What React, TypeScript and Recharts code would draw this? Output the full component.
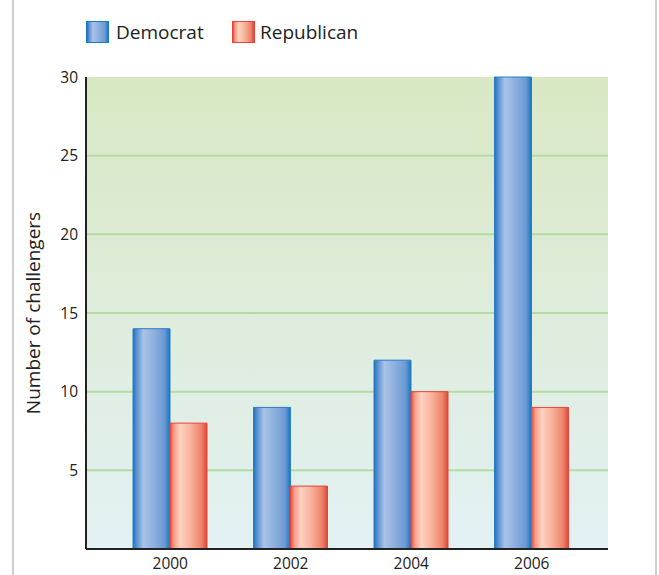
import React from 'react';
import { BarChart, Bar, XAxis, YAxis, CartesianGrid, Legend } from 'recharts';

const years = ['2000', '2002', '2004', '2006'];
const democrat = [14, 9, 12, 30];
const republican = [8, 4, 10, 9];
const yTicks = [5, 10, 15, 20, 25, 30];
const gridValues = [5, 10, 15, 20, 25];
const seriesNames = ['Democrat', 'Republican'];

const data = years.map((y, i) => ({ year: y, Democrat: democrat[i], Republican: republican[i] }));

const FONT = '"Open Sans", "Noto Sans", sans-serif';

const blueCss = 'linear-gradient(to right, #1b74c0 0%, #5a90d0 10%, #a9c3e8 28%, #8eb0de 55%, #6b9ad3 85%, #1576c3 100%)';
const redCss = 'linear-gradient(to right, #e54a3c 0%, #f49a85 10%, #fdd3c0 28%, #f8b29c 55%, #ef836a 85%, #d74a37 100%)';

const renderLegend = () => (
  <div style={{ display: 'flex', alignItems: 'center', fontFamily: FONT, fontSize: 19, color: '#222' }}>
    <div style={{ width: 21, height: 20, background: blueCss, border: '1px solid #1e78c4' }} />
    <span style={{ marginLeft: 7, width: 116 }}>{seriesNames[0]}</span>
    <div style={{ width: 21, height: 20, background: redCss, border: '1px solid #e8433d' }} />
    <span style={{ marginLeft: 5 }}>{seriesNames[1]}</span>
  </div>
);

const YLabel = (props: any) => {
  const vb = props.viewBox || { x: 0, y: 77, width: 86, height: 472 };
  const cx = vb.x + 33;
  const cy = vb.y + vb.height / 2;
  return (
    <text
      x={cx}
      y={cy}
      transform={`rotate(-90 ${cx} ${cy})`}
      textAnchor="middle"
      dominantBaseline="central"
      fontFamily={FONT}
      fontSize={19}
      fill="#222"
    >
      Number of challengers
    </text>
  );
};

const tickStyle = { fill: '#222', fontSize: 15.5, fontFamily: FONT };

export default function App() {
  return (
    <div style={{ position: 'absolute', left: 0, top: 0, width: 659, height: 575, background: '#fff' }}>
      <div style={{ position: 'absolute', left: 12, top: 0, width: 2, height: 575, background: '#cfcfcf' }} />
      <div style={{ position: 'absolute', left: 655, top: 0, width: 2, height: 575, background: '#cfcfcf' }} />
      <BarChart
        width={659}
        height={575}
        data={data}
        margin={{ top: 77, right: 51, bottom: 0, left: 0 }}
        barGap={0}
        barSize={37}
      >
        <defs>
          <linearGradient id="bgGrad" x1="0" y1="0" x2="0" y2="1">
            <stop offset="0%" stopColor="#d9e8c3" />
            <stop offset="100%" stopColor="#e3f1f4" />
          </linearGradient>
          <linearGradient id="blueGrad" x1="0" y1="0" x2="1" y2="0">
            <stop offset="0%" stopColor="#1b74c0" />
            <stop offset="10%" stopColor="#5a90d0" />
            <stop offset="28%" stopColor="#a9c3e8" />
            <stop offset="55%" stopColor="#8eb0de" />
            <stop offset="85%" stopColor="#6b9ad3" />
            <stop offset="100%" stopColor="#1576c3" />
          </linearGradient>
          <linearGradient id="redGrad" x1="0" y1="0" x2="1" y2="0">
            <stop offset="0%" stopColor="#e54a3c" />
            <stop offset="10%" stopColor="#f49a85" />
            <stop offset="28%" stopColor="#fdd3c0" />
            <stop offset="55%" stopColor="#f8b29c" />
            <stop offset="85%" stopColor="#ef836a" />
            <stop offset="100%" stopColor="#d74a37" />
          </linearGradient>
        </defs>
        <CartesianGrid
          vertical={false}
          horizontalValues={gridValues}
          stroke="#b5dba3"
          strokeWidth={2}
          fill="url(#bgGrad)"
          fillOpacity={1}
        />
        <XAxis
          dataKey="year"
          height={26}
          padding={{ left: 24, right: 16 }}
          tickLine={false}
          tickSize={0}
          tickMargin={9}
          fontSize={15.5}
          axisLine={{ stroke: '#222', strokeWidth: 2 }}
          tick={tickStyle}
        />
        <YAxis
          width={86}
          domain={[0, 30]}
          ticks={yTicks}
          interval={0}
          tickLine={false}
          tickSize={0}
          tickMargin={8}
          fontSize={15.5}
          axisLine={{ stroke: '#222', strokeWidth: 2 }}
          tick={tickStyle}
          label={{ content: YLabel }}
        />
        <Legend
          layout="horizontal"
          verticalAlign="middle"
          align="center"
          content={renderLegend}
          wrapperStyle={{ position: 'absolute', left: 86, top: 19, width: 400, height: 22 }}
        />
        <Bar dataKey="Democrat" name={seriesNames[0]} fill="url(#blueGrad)" stroke="#2a7cc4" strokeWidth={1} isAnimationActive={false} />
        <Bar dataKey="Republican" name={seriesNames[1]} fill="url(#redGrad)" stroke="#e8433d" strokeWidth={1} isAnimationActive={false} />
      </BarChart>
    </div>
  );
}
